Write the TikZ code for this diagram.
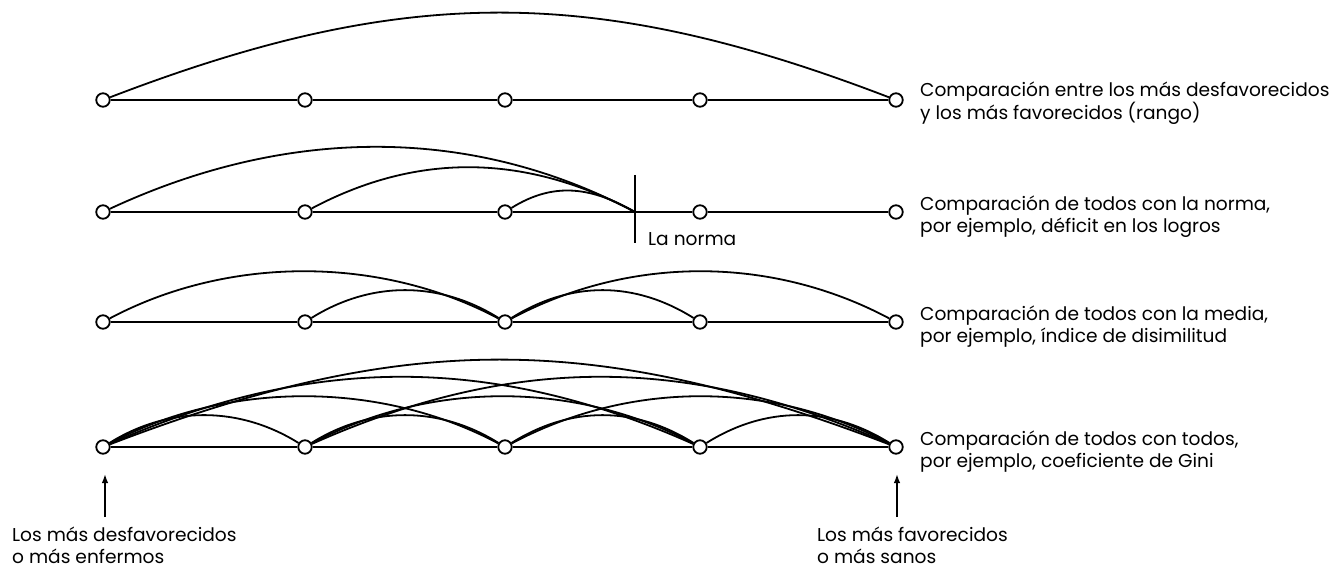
\documentclass[tikz,border=0pt]{standalone}
\usepackage{fontspec}
\setmainfont{Poppins}
\usetikzlibrary{arrows.meta}
\begin{document}
\begin{tikzpicture}[x=1pt,y=1pt,
  dot/.style={circle,draw,fill=white,line width=1.8pt,minimum size=13.5pt,inner sep=0pt},
  baseln/.style={line width=1.8pt},
  arcline/.style={line width=1.8pt},
  sone/.style={out=32,in=148,distance=70pt},
  stwo/.style={out=28,in=152,distance=134pt},
  sthree/.style={out=24,in=156,distance=220pt},
  sfour/.style={out=21,in=159,distance=315pt},
  lbl/.style={anchor=base west,align=left,inner sep=0pt,font=\fontsize{18.6}{22}\selectfont},
  tickln/.style={line width=1.8pt},
  uparrow/.style={line width=1.6pt,-{Latex[length=9pt,width=6.5pt]}}]
\useasboundingbox (0,0) rectangle (1331,-567);
% row 1
\node[dot] (a0) at (103,-100) {};
\node[dot] (a1) at (305,-100) {};
\node[dot] (a2) at (505,-100) {};
\node[dot] (a3) at (700,-100) {};
\node[dot] (a4) at (896,-100) {};
\draw[baseln] (a0)--(a1)--(a2)--(a3)--(a4);
\draw[arcline] (a0) to[sfour] (a4);
\node[lbl] (ta) at (920,-120) {Comparación entre los más desfavorecidos\\y los más favorecidos (rango)};
% row 2
\node[dot] (b0) at (103,-212) {};
\node[dot] (b1) at (305,-212) {};
\node[dot] (b2) at (505,-212) {};
\node[dot] (b3) at (700,-212) {};
\node[dot] (b4) at (896,-212) {};
\coordinate (N) at (635,-212);
\coordinate (Ntop) at (635,-175);
\coordinate (Nbot) at (635,-243);
\draw[baseln] (b0)--(b1)--(b2)--(N)--(b3)--(b4);
\draw[tickln] (Ntop)--(Nbot);
\draw[arcline] (b0) to[out=25,in=152,distance=190pt] (N);
\draw[arcline] (b1) to[out=28,in=152,distance=122pt] (N);
\draw[arcline] (b2) to[out=32,in=150,distance=50pt] (N);
\node[lbl] (norma) at (648,-245) {La norma};
\node[lbl] (tb) at (920,-232) {Comparación de todos con la norma,\\por ejemplo, déficit en los logros};
% row 3
\node[dot] (c0) at (103,-322) {};
\node[dot] (c1) at (305,-322) {};
\node[dot] (c2) at (505,-322) {};
\node[dot] (c3) at (700,-322) {};
\node[dot] (c4) at (896,-322) {};
\draw[baseln] (c0)--(c1)--(c2)--(c3)--(c4);
\draw[arcline] (c0) to[stwo] (c2);
\draw[arcline] (c1) to[sone] (c2);
\draw[arcline] (c2) to[sone] (c3);
\draw[arcline] (c2) to[stwo] (c4);
\node[lbl] (tc) at (920,-342) {Comparación de todos con la media,\\por ejemplo, índice de disimilitud};
% row 4
\node[dot] (d0) at (103,-447) {};
\node[dot] (d1) at (305,-447) {};
\node[dot] (d2) at (505,-447) {};
\node[dot] (d3) at (700,-447) {};
\node[dot] (d4) at (896,-447) {};
\draw[baseln] (d0)--(d1)--(d2)--(d3)--(d4);
\draw[arcline] (d0) to[sone] (d1);
\draw[arcline] (d0) to[stwo] (d2);
\draw[arcline] (d0) to[sthree] (d3);
\draw[arcline] (d0) to[sfour] (d4);
\draw[arcline] (d1) to[sone] (d2);
\draw[arcline] (d1) to[stwo] (d3);
\draw[arcline] (d1) to[sthree] (d4);
\draw[arcline] (d2) to[sone] (d3);
\draw[arcline] (d2) to[stwo] (d4);
\draw[arcline] (d3) to[sone] (d4);
\node[lbl] (td) at (920,-467) {Comparación de todos con todos,\\por ejemplo, coeficiente de Gini};
% bottom arrows and labels
\coordinate (L0) at (105,-517);
\coordinate (L1) at (105,-474);
\coordinate (R0) at (897,-517);
\coordinate (R1) at (897,-474);
\draw[uparrow] (L0)--(L1);
\draw[uparrow] (R0)--(R1);
\node[lbl] (tl) at (12,-563) {Los más desfavorecidos\\o más enfermos};
\node[lbl] (tr) at (817,-563) {Los más favorecidos\\o más sanos};
\end{tikzpicture}
\end{document}
